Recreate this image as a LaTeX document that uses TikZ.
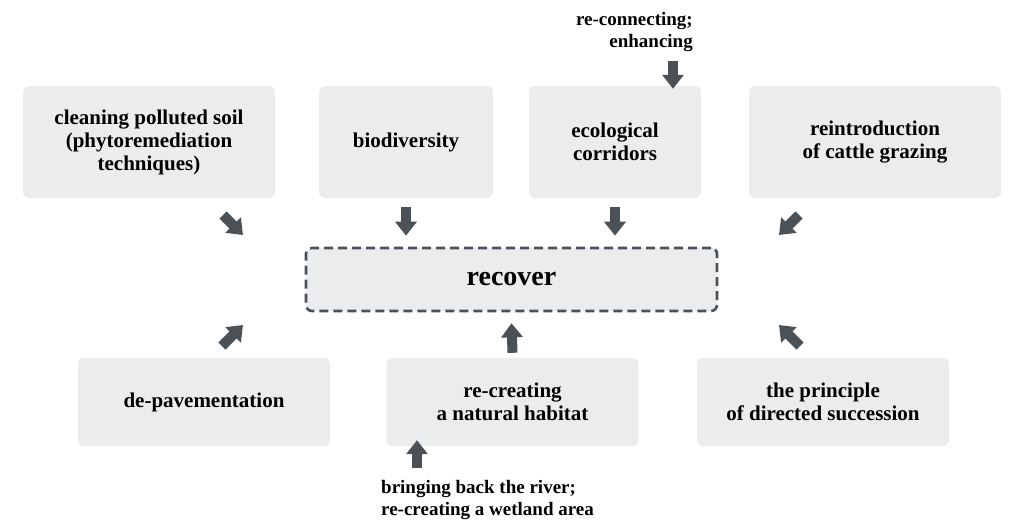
\documentclass[tikz,border=0pt]{standalone}
\usepackage{fontspec}
\setmainfont{Liberation Serif}
\usepackage{xcolor}
\definecolor{slate}{RGB}{74,82,88}
\definecolor{boxgray}{RGB}{235,236,238}
\usetikzlibrary{arrows.meta,positioning}
\tikzset{
  topic/.style={rectangle, rounded corners=6pt, fill=boxgray, align=center,
                inner sep=0pt, minimum width=252pt, minimum height=#1,
                font=\fontsize{21}{23}\selectfont\bfseries},
  topic/.default=112pt,
  goal/.style={rectangle, rounded corners=6pt, fill=boxgray, draw=slate,
               line width=2.6pt, dash pattern=on 9pt off 5pt,
               minimum width=411pt, minimum height=63pt,
               font=\fontsize{28}{30}\selectfont\bfseries},
  push/.style={slate, line width=10pt, -{Triangle[width=21pt,length=14pt]}},
  note/.style={inner sep=0pt, font=\fontsize{19}{22}\selectfont\bfseries},
}

\begin{document}
\begin{tikzpicture}[x=1pt,y=-1pt]
  \useasboundingbox (0,0) rectangle (1013,522);
  % Central goal
  \node[goal] (recover) at (511.5,279.5) {recover};
  % Top row
  \node[topic] (soil) at (149,142) {cleaning polluted soil\\(phytoremediation\\techniques)};
  \node[topic, minimum width=174pt] (bio) at (406,142) {biodiversity};
  \node[topic, minimum width=172pt] (corr) at (615,142) {ecological\\corridors};
  \node[topic] (cattle) at (875,142) {reintroduction\\of cattle grazing};
  % Bottom row
  \node[topic=88pt] (pave) at (204,402) {de-pavementation};
  \node[topic=88pt] (habitat) at (512.5,402) {re-creating\\a natural habitat};
  \node[topic=88pt] (succ) at (823,402) {the principle\\of directed succession};
  % Side notes
  \node[note, align=right, anchor=east] (reconn) at (693,32) {re-connecting;\\enhancing};
  \node[note, align=left, anchor=west] (river) at (381,500) {bringing back the river;\\re-creating a wetland area};
  % Free arrow ends
  \coordinate (s1) at (223,215); \coordinate (e1) at (243,235);
  \coordinate (s4) at (799,215); \coordinate (e4) at (779,235);
  \coordinate (s5) at (222,346); \coordinate (e5) at (243,325);
  \coordinate (s7) at (800,346); \coordinate (e7) at (779,325);
  \coordinate (sr) at (673,61);
  \coordinate (sb) at (417,468);
  % Arrows into the goal
  \draw[push] (s1) -- (e1);
  \draw[push] ([yshift=-9pt]bio.south) -- ([yshift=11pt]bio.south |- recover.north);
  \draw[push] ([yshift=-9pt]corr.south) -- ([yshift=11pt]corr.south |- recover.north);
  \draw[push] (s4) -- (e4);
  \draw[push] (s5) -- (e5);
  \draw[push] ([yshift=5pt]habitat.north) -- ([yshift=-11pt]recover.south);
  \draw[push] (s7) -- (e7);
  % Arrows from the notes
  \draw[push] (sr) -- ([yshift=-3pt]sr |- corr.north);
  \draw[push] (sb) -- ([yshift=6pt]sb |- habitat.south);
\end{tikzpicture}
\end{document}
